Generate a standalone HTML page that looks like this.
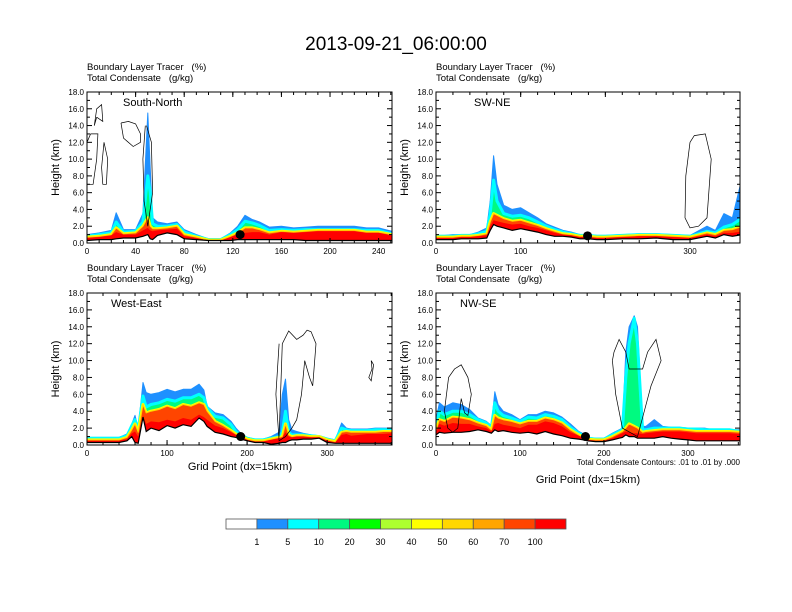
<!DOCTYPE html>
<html><head><meta charset="utf-8"><style>
body{margin:0;background:#fff;}
svg{display:block;font-family:"Liberation Sans",sans-serif;}
text{white-space:pre;}
</style></head><body>
<svg id="fig" width="792" height="612" viewBox="0 0 792 612">
<text x="396" y="50" font-size="19" text-anchor="middle">2013-09-21_06:00:00</text>
</svg>
<script>
// ---------- data ----------
const legendLabels = ["1","5","10","20","30","40","50","60","70","100"];
const legendColors = ["#ffffff","#1e90ff","#00ffff","#00fa80","#00ff00","#adff2f","#ffff00","#ffd700","#ffa500","#ff4500","#ff0000"];

const snX = [0,10,20,24,30,40,46,50,52,54,58,66,74,80,90,100,110,118,124,130,136,142,150,160,170,180,190,200,210,220,230,240,251];
const snTerrain = [0.3,0.4,0.4,0.5,0.6,0.6,0.8,1.0,0.5,0.4,0.9,1.2,1.0,0.5,0.4,0.3,0.3,0.3,0.4,0.4,0.4,0.4,0.4,0.4,0.4,0.3,0.3,0.3,0.3,0.3,0.3,0.3,0.3];
const snRed = [0.6,0.7,0.9,1.3,1.0,1.0,1.5,1.8,1.5,1.4,1.5,1.6,1.7,0.8,0.6,0.3,0.3,0.7,1.0,1.2,1.3,1.3,1.0,1.3,1.2,1.3,1.4,1.4,1.4,1.4,1.2,1.2,0.9];
const snOrange = [0.7,0.8,1.0,1.8,1.1,1.2,2.0,3.0,2.0,1.7,1.7,1.8,2.0,1.0,0.7,0.35,0.35,0.8,1.2,1.8,1.8,1.6,1.2,1.4,1.3,1.4,1.5,1.5,1.5,1.5,1.3,1.3,1.0];
const snGreen = [0.8,1.0,1.2,2.5,1.3,1.4,2.5,8.0,6.0,2.3,2.0,2.0,2.2,1.3,0.8,0.4,0.4,1.0,1.6,2.6,2.4,2.1,1.5,1.6,1.5,1.6,1.6,1.6,1.6,1.6,1.5,1.5,1.1];
const snBlue = [1.0,1.2,1.5,3.6,1.6,1.6,3.5,15.5,9.0,3.0,2.5,2.3,2.5,1.6,1.0,0.5,0.5,1.2,2.0,3.3,2.8,2.5,1.9,2.0,1.8,1.9,2.0,2.0,2.0,2.0,1.8,1.8,1.4];

const swX = [0,10,20,30,40,50,60,64,68,72,80,90,100,110,120,130,140,150,160,170,180,190,200,220,240,260,280,300,320,330,340,350,362];
const swTerrain = [0.4,0.4,0.4,0.5,0.5,0.5,0.6,1.5,2.2,2.0,1.8,1.5,1.7,1.5,1.3,1.0,0.8,0.8,0.7,0.5,0.5,0.4,0.4,0.5,0.5,0.6,0.4,0.4,0.8,0.6,1.0,0.8,1.0];
const swRed = [0.6,0.6,0.6,0.7,0.7,0.8,0.9,2.0,2.7,2.6,2.4,2.2,2.3,2.0,1.8,1.5,1.2,1.0,0.9,0.7,0.7,0.6,0.6,0.7,0.8,0.8,0.7,0.6,1.0,0.8,1.2,1.2,1.4];
const swOrange = [0.7,0.7,0.7,0.8,0.8,0.9,1.1,2.5,3.5,3.3,2.9,2.6,2.7,2.4,2.1,1.7,1.4,1.1,1.0,0.8,0.8,0.7,0.7,0.8,0.9,0.9,0.8,0.7,1.2,1.0,1.5,1.6,2.0];
const swGreen = [0.8,0.8,0.8,0.9,0.9,1.1,1.4,3.5,7.5,5.0,3.5,3.2,3.3,3.0,2.5,2.0,1.6,1.3,1.1,0.9,0.9,0.8,0.8,0.9,1.0,1.0,0.9,0.8,1.4,1.2,1.9,2.2,3.0];
const swBlue = [0.9,0.9,1.0,1.0,1.0,1.3,1.8,5.0,10.4,7.0,4.5,4.0,4.2,3.6,3.0,2.3,1.9,1.5,1.3,1.0,1.0,0.9,0.9,1.0,1.1,1.1,1.0,0.9,2.0,1.5,3.5,3.0,8.0];

const weX = [0,20,40,50,56,60,64,70,74,80,90,100,110,120,130,140,146,150,160,170,180,186,192,200,210,220,230,240,244,248,252,256,262,270,280,290,300,310,318,324,330,340,350,360,370,381];
const weTerrain = [0.3,0.3,0.3,0.5,1.0,0.3,0.2,3.3,1.6,2.0,1.7,2.3,2.0,2.4,2.2,3.2,2.8,2.2,1.5,1.3,1.0,0.9,0.7,0.5,0.3,0.3,0.1,0.2,0.3,0.3,0.5,0.6,0.6,0.7,0.7,0.8,0.3,0.2,0.2,0.2,0.2,0.2,0.2,0.2,0.2,0.2];
const weRed = [0.5,0.5,0.5,0.7,1.4,1.6,1.0,3.5,2.5,2.8,2.7,3.0,2.8,3.2,3.0,3.6,3.3,3.0,2.3,2.0,1.5,1.2,1.0,0.6,0.4,0.4,0.6,0.8,0.9,1.5,1.0,0.9,1.0,1.0,0.9,0.9,0.5,0.3,1.2,1.3,1.1,1.2,1.3,1.3,1.3,1.4];
const weOrange = [0.6,0.6,0.6,0.9,1.8,2.5,1.5,4.8,3.8,4.0,4.2,4.6,4.3,4.8,4.6,5.0,4.8,4.0,2.8,2.3,1.7,1.3,1.1,0.7,0.5,0.5,0.7,0.9,1.0,2.5,1.2,1.0,1.1,1.1,1.0,1.0,0.6,0.4,1.5,1.6,1.5,1.5,1.5,1.5,1.6,1.6];
const weGreen = [0.8,0.8,0.8,1.1,2.3,3.0,1.8,5.8,4.5,4.8,5.0,5.4,5.2,5.6,5.6,6.0,5.6,4.4,3.4,3.2,2.4,1.6,1.2,0.8,0.6,0.6,0.8,1.0,1.5,4.0,1.5,1.2,1.2,1.2,1.1,1.0,0.7,0.5,2.0,1.8,1.7,1.7,1.7,1.8,1.8,1.8];
const weBlue = [0.9,0.9,0.9,1.3,2.5,3.5,2.0,7.4,6.2,6.0,6.2,6.6,6.3,6.6,6.6,7.2,6.5,4.6,3.8,3.6,2.8,2.0,1.4,0.9,0.7,0.7,1.0,1.5,6.0,7.8,3.0,1.8,1.6,1.4,1.2,1.1,0.8,0.6,2.6,2.0,1.9,1.9,1.9,2.0,2.0,2.0];

const nwX = [0,4,10,20,30,40,50,60,66,70,74,80,90,100,110,120,130,140,150,160,170,176,180,190,200,210,218,222,226,230,236,240,246,250,260,270,280,290,300,310,320,330,340,350,362];
const nwTerrain = [1.2,1.5,1.4,1.5,1.5,1.6,1.8,1.6,1.4,1.8,1.6,1.7,1.5,1.4,1.5,1.3,1.6,1.3,1.1,0.8,0.7,0.6,0.5,0.4,0.4,0.6,0.8,0.9,1.2,1.0,1.0,0.8,0.8,0.8,0.8,1.0,0.8,0.7,0.6,0.5,0.5,0.5,0.5,0.5,0.5];
const nwRed = [1.6,2.5,2.3,2.6,2.5,2.5,2.2,2.0,1.6,2.5,2.6,2.4,2.2,2.0,2.4,2.4,2.8,2.6,2.2,1.5,1.1,0.8,0.6,0.5,0.5,0.8,1.2,1.4,1.6,1.5,1.4,1.4,1.3,1.4,1.5,1.6,1.6,1.6,1.5,1.4,1.4,1.4,1.4,1.4,1.3];
const nwOrange = [1.8,3.0,2.8,3.3,3.2,3.0,2.6,2.3,1.8,3.5,3.2,3.0,2.8,2.5,2.8,2.8,3.2,3.0,2.6,1.8,1.2,0.9,0.7,0.6,0.6,1.0,1.4,1.6,2.0,2.5,2.2,2.0,1.5,1.6,1.7,1.8,1.8,1.8,1.7,1.6,1.6,1.6,1.6,1.6,1.5];
const nwGreen = [2.2,4.0,3.6,4.0,4.0,3.6,3.0,2.6,2.1,5.0,4.0,3.5,3.2,2.8,3.3,3.2,3.6,3.4,3.0,2.1,1.4,1.1,0.8,0.7,0.7,1.2,1.6,1.8,8.0,12.0,15.0,12.0,1.8,1.8,2.0,2.0,2.0,2.0,1.9,1.9,1.8,1.8,1.8,1.8,1.6];
const nwBlue = [3.0,5.0,4.5,5.0,4.8,4.2,3.2,2.8,2.3,6.3,4.8,4.0,3.6,3.0,3.6,3.6,4.0,3.8,3.3,2.5,1.6,1.3,0.9,0.8,0.8,1.4,1.8,2.0,11.0,14.0,15.3,14.0,2.2,2.2,3.0,2.2,2.1,2.1,2.0,2.0,2.0,1.8,1.8,1.8,1.8];

// contour lines (grid point, km)
const snContourX = [[48,46,47,50,54,53,49],[3,0,0,5,8,9,3],[8,6,8,12,13,8],[14,12,13,16,17,14],[28,34,40,44,44,38,30,28]];
const snContourY = [[14,10,5,2,6,12,14],[13,12,7,7,10,13,13],[15,14,16,16.5,14.5,15],[12,9,7,7,10,12],[14.3,14.5,14.2,13,12,11.5,12.5,14.3]];
const swContourX = [[300,295,294,300,310,320,325,318,305,300],[335,345,350,340,335]];
const swContourY = [[12,8,3,1.8,2,3,10,13,12.8,12]];
const weContourX = [[240,244,252,262,270,275,280,286,282,278,272,268,262,256,248,240,236,240],[355,356,352,355,358,355]];
const weContourY = [[1,12,13.5,12.5,13,13.6,13.4,12,7,8,10,6,3,2,1,0.5,6,12],[10,9,8,7.6,9.5,10]];
const nwContourX = [[10,15,22,30,38,42,38,34,30,26,20,14,10],[210,212,218,226,230,246,252,262,268,256,248,240,222,214,210]];
const nwContourY = [[4,8,9,9.5,8,6,3.5,3.8,5.5,2,1.5,2,4],[10,11,12.5,11,9,9,11,12.5,10,7,4,1,2,6,10]];

const dotX = [126,179,192,178];
const dotH = [1.0,0.85,1.0,1.0];

// ---------- drawing ----------
const NS = "http://www.w3.org/2000/svg";
const svg = document.getElementById("fig");
function mk(tag, attrs, parent){
  const e = document.createElementNS(NS, tag);
  for (const k in attrs) e.setAttribute(k, attrs[k]);
  (parent||svg).appendChild(e);
  return e;
}
function panel(cfg, idx){
  const {L,T,W,H,xmax,xticks,xlabels,minorStep,name,xs,terrain,red,orange,green,blue,cx,cy} = cfg;
  const g = mk("g",{});
  
  
  const sx = v => L + v/xmax*W;
  const sy = v => T + H - v/18*H;
  const clipId = "clip"+idx;
  const cp = mk("clipPath",{id:clipId}, g);
  mk("rect",{x:L,y:T,width:W,height:H}, cp);
  const body = mk("g",{"clip-path":"url(#"+clipId+")"}, g);
  function area(arr, fill, stroke, sw, nm){
    let d = "M"+sx(xs[0])+","+sy(0);
    xs.forEach((x,i)=>{ d += " L"+sx(x).toFixed(1)+","+sy(arr[i]).toFixed(1); });
    d += " L"+sx(xs[xs.length-1])+","+sy(0)+" Z";
    const p = mk("path",{d:d, fill:fill, stroke:stroke||"none", "stroke-width":sw||0, "stroke-linejoin":"round"}, body);
    
    
    return p;
  }
  area(blue, "#1e90ff", "#1e90ff", 1, "tracer-1-5");
  area(green, "#00fa80", "#00ffff", 3, "tracer-10-30");
  area(orange, "#ffa500", "#ffff00", 3, "tracer-40-70");
  area(orange, "#ff4500", "#ffd700", 1, "tracer-70");
  area(red, "#ff0000", "none", 0, "tracer-100");
  let d = "M"+sx(xs[0])+","+sy(0);
  xs.forEach((x,i)=>{ d += " L"+sx(x).toFixed(1)+","+sy(terrain[i]).toFixed(1); });
  d += " L"+sx(xs[xs.length-1])+","+sy(0)+" Z";
  const tp = mk("path",{d:d, fill:"#ffffff", stroke:"none"}, body);
  
  
  let ld = "";
  xs.forEach((x,i)=>{ ld += (i?" L":"M")+sx(x).toFixed(1)+","+sy(terrain[i]).toFixed(1); });
  const tl = mk("path",{d:ld, fill:"none", stroke:"#000", "stroke-width":1.2}, body);
  
  
  cx.forEach((xa,k)=>{
    const ya = cy[k]; if(!ya) return;
    let cd = "";
    xa.forEach((x,i)=>{ cd += (i?" L":"M")+sx(x).toFixed(1)+","+sy(ya[i]).toFixed(1); });
    const c = mk("path",{d:cd, fill:"none", stroke:"#000", "stroke-width":0.7}, body);
    
    
  });
  const dot = mk("circle",{cx:sx(dotX[idx]), cy:sy(dotH[idx]), r:4.5, fill:"#000"}, g);
  
  
  const fr = mk("rect",{x:L,y:T,width:W,height:H,fill:"none",stroke:"#000","stroke-width":1}, g);
  
  
  for(let v=0; v<=18.001; v+=2){
    const y = sy(v);
    mk("line",{x1:L,x2:L+5,y1:y,y2:y,stroke:"#000"}, g);
    mk("line",{x1:L+W,x2:L+W-5,y1:y,y2:y,stroke:"#000"}, g);
    const t = mk("text",{x:L-3,y:y+3,"font-size":8,"text-anchor":"end"}, g);
    t.textContent = v.toFixed(1);
    
    
  }
  for(let v=1; v<18; v+=2){
    const y = sy(v);
    mk("line",{x1:L,x2:L+3,y1:y,y2:y,stroke:"#000"}, g);
    mk("line",{x1:L+W,x2:L+W-3,y1:y,y2:y,stroke:"#000"}, g);
  }
  for(let v=0; v<=xmax; v+=minorStep){
    mk("line",{x1:sx(v),x2:sx(v),y1:T+H,y2:T+H-3,stroke:"#000"}, g);
    mk("line",{x1:sx(v),x2:sx(v),y1:T,y2:T+3,stroke:"#000"}, g);
  }
  xticks.forEach((v,i)=>{
    mk("line",{x1:sx(v),x2:sx(v),y1:T+H,y2:T+H-5,stroke:"#000"}, g);
    mk("line",{x1:sx(v),x2:sx(v),y1:T,y2:T+5,stroke:"#000"}, g);
    if(xlabels[i]){
      const t = mk("text",{x:sx(v),y:T+H+11,"font-size":8,"text-anchor":"middle"}, g);
      t.textContent = xlabels[i];
      
      
    }
  });
  const t1 = mk("text",{x:L,y:T-22,"font-size":9.5}, g);
  t1.textContent = "Boundary Layer Tracer   (%)";
  
  
  const t2 = mk("text",{x:L,y:T-11,"font-size":9.5}, g);
  t2.textContent = "Total Condensate   (g/kg)";
  
  
  const yt = mk("text",{x:0,y:0,"font-size":11,"text-anchor":"middle",transform:"translate("+(L-28)+","+(T+H/2)+") rotate(-90)"}, g);
  yt.textContent = "Height (km)";
  
  
  const pl = mk("text",{x:cfg.labelX,y:T+14,"font-size":11}, g);
  pl.textContent = cfg.label;
  
  
}
panel({L:87,T:92,W:305,H:151,xmax:251,xticks:[0,40,80,120,160,200,240],xlabels:["0","40","80","120","160","200","240"],minorStep:10,name:"south-north",label:"South-North",labelX:123,xs:snX,terrain:snTerrain,red:snRed,orange:snOrange,green:snGreen,blue:snBlue,cx:snContourX,cy:snContourY},0);
panel({L:436,T:92,W:304,H:151,xmax:359,xticks:[0,100,200,300],xlabels:["0","100","","300"],minorStep:20,name:"sw-ne",label:"SW-NE",labelX:474,xs:swX,terrain:swTerrain,red:swRed,orange:swOrange,green:swGreen,blue:swBlue,cx:swContourX,cy:swContourY},1);
panel({L:87,T:293,W:305,H:152,xmax:381,xticks:[0,100,200,300],xlabels:["0","100","200","300"],minorStep:20,name:"west-east",label:"West-East",labelX:111,xs:weX,terrain:weTerrain,red:weRed,orange:weOrange,green:weGreen,blue:weBlue,cx:weContourX,cy:weContourY},2);
panel({L:436,T:293,W:304,H:152,xmax:362,xticks:[0,100,200,300],xlabels:["0","100","200","300"],minorStep:20,name:"nw-se",label:"NW-SE",labelX:460,xs:nwX,terrain:nwTerrain,red:nwRed,orange:nwOrange,green:nwGreen,blue:nwBlue,cx:nwContourX,cy:nwContourY},3);

[[240,470],[588,483]].forEach(p=>{
  const t = mk("text",{x:p[0],y:p[1],"font-size":11,"text-anchor":"middle"});
  t.textContent = "Grid Point (dx=15km)";
  
  
});
const note = mk("text",{x:740,y:465,"font-size":8,"text-anchor":"end"});
note.textContent = "Total Condensate Contours: .01 to .01 by .000";



const cbL=226, cbW=340, cbT=519, cbH=10, bw=cbW/legendColors.length;
legendColors.forEach((c,i)=>{
  const r = mk("rect",{x:cbL+i*bw,y:cbT,width:bw,height:cbH,fill:c,stroke:"#555","stroke-width":0.8});
  
  
});
legendLabels.forEach((s,i)=>{
  const t = mk("text",{x:cbL+(i+1)*bw,y:545,"font-size":9,"text-anchor":"middle"});
  t.textContent = s;
  
  
});
</script>
</body></html>
